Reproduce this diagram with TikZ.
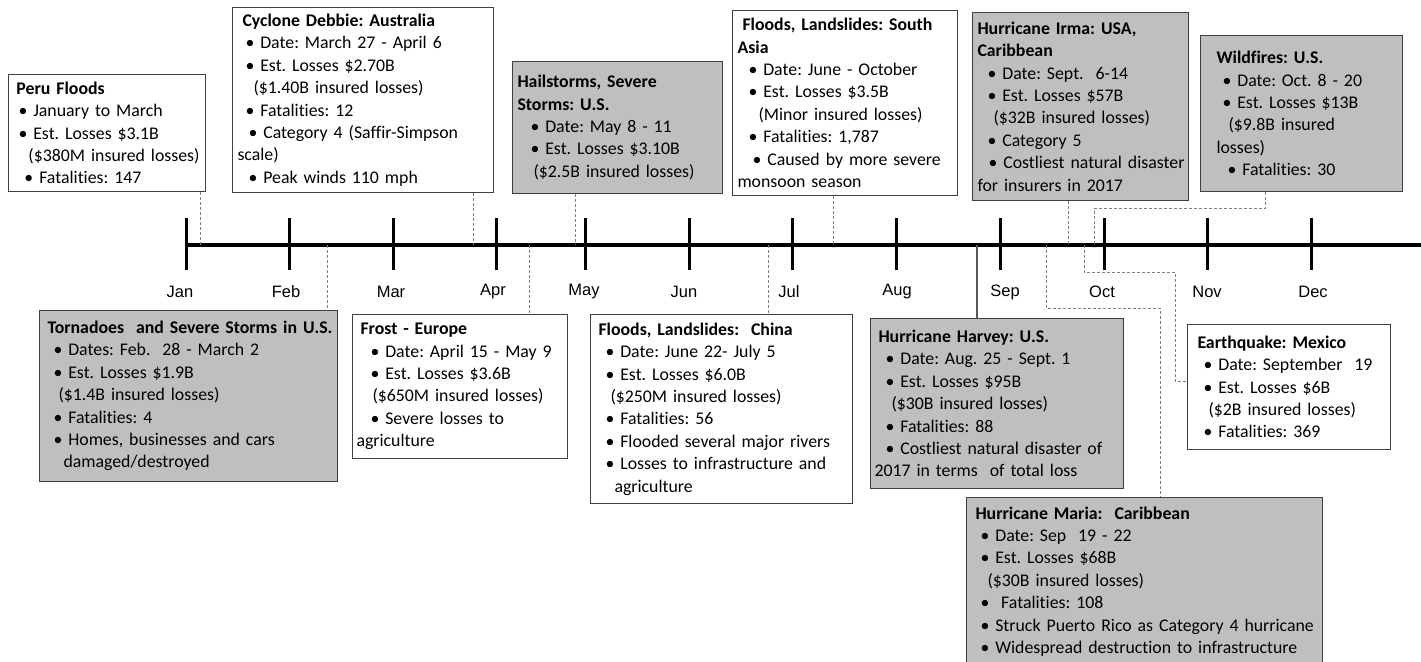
\documentclass[tikz,border=0pt]{standalone}
\usepackage{fontspec}
\setmainfont{Carlito}[Ligatures=NoCommon]
\newfontfamily\monthfont{Liberation Sans}
\usepackage{tikz}
\usetikzlibrary{positioning}
\frenchspacing

\definecolor{boxgrey}{RGB}{191,191,191}
\definecolor{edgegrey}{RGB}{64,64,64}
\definecolor{leadgrey}{RGB}{128,128,128}
\definecolor{harvgrey}{RGB}{89,89,89}

% one line of a box: indent (px) and text
\newcommand{\evl}[2]{\hspace*{#1pt}\mbox{#2}}

\begin{document}
\begin{tikzpicture}[
  x=1pt, y=-1pt,
  evbox/.style={draw=edgegrey, line width=1pt, fill=white, anchor=north west, align=left,
                inner xsep=0pt, inner ysep=0pt, font=\fontsize{17.8}{22.4}\selectfont},
  evgrey/.style={evbox, fill=boxgrey},
  sz/.style 2 args={text width=#1pt, minimum height=#2pt},
  month/.style={font=\monthfont\fontsize{16.5}{20}\selectfont, inner sep=0pt},
  mtick/.style={line width=3pt},
  lead/.style={draw=leadgrey, line width=1pt, dash pattern=on 3pt off 2pt},
  harvline/.style={draw=harvgrey, line width=1.2pt}
]
\useasboundingbox (0,0) rectangle (1421,661);
\clip (0,0) rectangle (1421,661);

% timeline
\coordinate (tlstart) at (185,245);
\coordinate (tlend) at (1421,245);
\draw[line width=4pt] (tlstart) -- (tlend);
\foreach \mname/\tx/\lx [count=\i] in {Jan/186/180, Feb/289/286, Mar/393/391, Apr/496/493,
    May/585/584, Jun/689/684, Jul/792/789, Aug/896/897, Sep/1000/1005, Oct/1104/1102,
    Nov/1207/1207, Dec/1311/1313}{
  \draw[mtick] (\tx,218) -- (\tx,270);
  \node[month] (lab\i) at (\lx,292) {\mname};
}

% events above the line
\node[evbox, sz={197}{117}] (peru) at (8,74) {%
  \evl{8}{\textbf{Peru Floods}}\\
  \evl{10}{• January to March}\\
  \evl{10}{• Est. Losses \$3.1B}\\
  \evl{20}{(\$380M insured losses)}\\
  \evl{16}{• Fatalities: 147}};
\node[evbox, sz={261}{185}] (debbie) at (232,7) {%
  \evl{10}{\textbf{Cyclone Debbie: Australia}}\\
  \evl{13}{• Date: March 27 - April 6}\\
  \evl{13}{• Est. Losses \$2.70B}\\
  \evl{21}{(\$1.40B insured losses)}\\
  \evl{13}{• Fatalities: 12}\\
  \evl{16}{• Category 4 (Saffir-Simpson}\\
  \evl{5}{scale)}\\
  \evl{16}{• Peak winds 110 mph}};
\node[evgrey, sz={210}{132}] (hail) at (512,61) {%
  \evl{5}{\textbf{Hailstorms, Severe}}\\
  \evl{5}{\textbf{Storms: U.S.}}\\
  \evl{18}{• Date: May 8 - 11}\\
  \evl{18}{• Est. Losses \$3.10B}\\
  \evl{21}{(\$2.5B insured losses)}};
\node[evbox, sz={225}{185}] (sasia) at (732,10) {%
  \evl{10}{\textbf{Floods, Landslides: South}}\\
  \evl{5}{\textbf{Asia}}\\
  \evl{16}{• Date: June - October}\\
  \evl{16}{• Est. Losses \$3.5B}\\
  \evl{26}{(Minor insured losses)}\\
  \evl{16}{• Fatalities: 1,787}\\
  \evl{20}{• Caused by more severe}\\
  \evl{5}{monsoon season}};
\node[evgrey, sz={216}{188}] (irma) at (972,12) {%
  \evl{5}{\textbf{Hurricane Irma: USA,}}\\
  \evl{5}{\textbf{Caribbean}}\\
  \evl{15}{• Date: Sept.\ \ 6-14}\\
  \evl{15}{• Est. Losses \$57B}\\
  \evl{21}{(\$32B insured losses)}\\
  \evl{15}{• Category 5}\\
  \evl{16}{• Costliest natural disaster}\\
  \evl{5}{for insurers in 2017}};
\node[evgrey, sz={202}{156}] (wild) at (1200,35) {%
  \evl{16}{\textbf{Wildfires: U.S.}}\\
  \evl{22}{• Date: Oct. 8 - 20}\\
  \evl{22}{• Est. Losses \$13B}\\
  \evl{28}{(\$9.8B insured}\\
  \evl{16}{losses)}\\
  \evl{27}{• Fatalities: 30}};

% events below the line
\node[evgrey, sz={298}{171}] (tornado) at (39,310) {%
  \evl{8}{\textbf{Tornadoes\ \ and Severe Storms in U.S.}}\\
  \evl{14}{• Dates: Feb.\ \ 28 - March 2}\\
  \evl{14}{• Est. Losses \$1.9B}\\
  \evl{19}{(\$1.4B insured losses)}\\
  \evl{14}{• Fatalities: 4}\\
  \evl{14}{• Homes, businesses and cars}\\
  \evl{24}{damaged/destroyed}};
\node[evbox, sz={215}{144}] (frost) at (352,314) {%
  \evl{8}{\textbf{Frost - Europe}}\\
  \evl{18}{• Date: April 15 - May 9}\\
  \evl{18}{• Est. Losses \$3.6B}\\
  \evl{20}{(\$650M insured losses)}\\
  \evl{18}{• Severe losses to}\\
  \evl{4}{agriculture}};
\node[evbox, sz={262}{189}] (china) at (590,314) {%
  \evl{8}{\textbf{Floods, Landslides:\ \ China}}\\
  \evl{15}{• Date: June 22- July 5}\\
  \evl{15}{• Est. Losses \$6.0B}\\
  \evl{20}{(\$250M insured losses)}\\
  \evl{15}{• Fatalities: 56}\\
  \evl{15}{• Flooded several major rivers}\\
  \evl{15}{• Losses to infrastructure and}\\
  \evl{24}{agriculture}};
\node[evgrey, sz={253}{170}] (harvey) at (870,318) {%
  \evl{8}{\textbf{Hurricane Harvey: U.S.}}\\
  \evl{15}{• Date: Aug. 25 - Sept.\ 1}\\
  \evl{15}{• Est. Losses \$95B}\\
  \evl{21}{(\$30B insured losses)}\\
  \evl{15}{• Fatalities: 88}\\
  \evl{15}{• Costliest natural disaster of}\\
  \evl{4}{2017 in terms\ \ of total loss}};
\node[evbox, sz={203}{125}] (quake) at (1187,324) {%
  \evl{10}{\textbf{Earthquake: Mexico}}\\
  \evl{16}{• Date: September\ \ 19}\\
  \evl{16}{• Est. Losses \$6B}\\
  \evl{21}{(\$2B insured losses)}\\
  \evl{16}{• Fatalities: 369}};
\node[evgrey, sz={356}{168}] (maria) at (966,497) {%
  \evl{9}{\textbf{Hurricane Maria:\ \ Caribbean}}\\
  \evl{14}{• Date: Sep\ \ 19 - 22}\\
  \evl{14}{• Est. Losses \$68B}\\
  \evl{21}{(\$30B insured losses)}\\
  \evl{14}{•\ \ Fatalities: 108}\\
  \evl{14}{• Struck Puerto Rico as Category 4 hurricane}\\
  \evl{14}{• Widespread destruction to infrastructure}};

% points on the timeline
\coordinate (hPeru) at (200,245);
\coordinate (hDebbie) at (473,245);
\coordinate (hHail) at (575,245);
\coordinate (hSasia) at (833,245);
\coordinate (hIrma) at (1068,245);
\coordinate (hWild) at (1094,245);
\coordinate (hTornado) at (327,245);
\coordinate (hFrost) at (529,245);
\coordinate (hChina) at (768,245);
\coordinate (hHarvey) at (977,245);
\coordinate (hMaria) at (1046,245);
\coordinate (hQuake) at (1084,245);

% leaders
\draw[lead] (peru.south -| hPeru) -- (hPeru);
\draw[lead] (debbie.south -| hDebbie) -- (hDebbie);
\draw[lead] (hail.south -| hHail) -- (hHail);
\draw[lead] (sasia.south -| hSasia) -- (hSasia);
\draw[lead] (irma.south -| hIrma) -- (hIrma);
\draw[lead] ([xshift=-36pt]wild.south) -- ++(0,16) -| (hWild);
\draw[lead] (hTornado) -- (tornado.north -| hTornado);
\draw[lead] (hFrost) -- (frost.north -| hFrost);
\draw[lead] (hChina) -- (china.north -| hChina);
\draw[harvline] (hHarvey) -- (harvey.north -| hHarvey);
\draw[lead] (hMaria) -- ++(0,63) -| ([xshift=16pt]maria.north);
\draw[lead] (hQuake) -- ++(0,27) -- ++(91,0) |- ([yshift=6pt]quake.west);
\end{tikzpicture}
\end{document}
